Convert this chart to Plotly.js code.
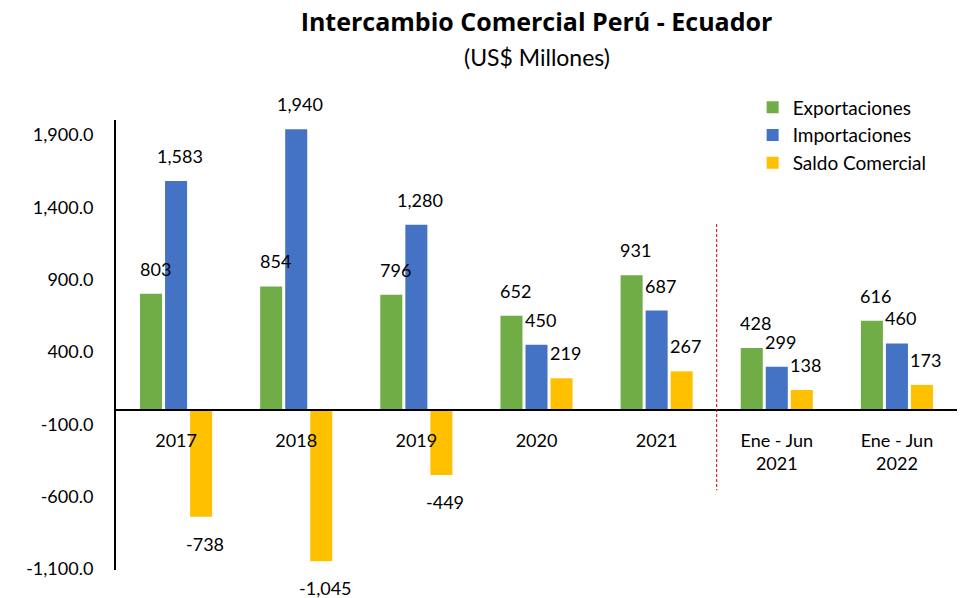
<!DOCTYPE html>
<html>
<head>
<meta charset="utf-8">
<script src="https://cdn.plot.ly/plotly-3.0.1.min.js"></script>
<style>html,body{margin:0;padding:0;background:#fff;}#chart{width:961px;height:598px;}</style>
</head>
<body>
<div id="chart"></div>
<script>
const categories = ['2017', '2018', '2019', '2020', '2021', 'Ene - Jun<br>2021', 'Ene - Jun<br>2022'];
const exportaciones = [803, 854, 796, 652, 931, 428, 616];
const importaciones = [1583, 1940, 1280, 450, 687, 299, 460];
const saldo = [-738, -1045, -449, 219, 267, 138, 173];
const yTicks = [-1100, -600, -100, 400, 900, 1400, 1900];

const FONT = 'Lato, "Open Sans", sans-serif';
const FONT2 = '"Open Sans", Lato, sans-serif';
const yMin = -1106, yMax = 2004;
const series = [
  {name: 'Exportaciones', values: exportaciones, color: '#70AD47', xshift: -21},
  {name: 'Importaciones', values: importaciones, color: '#4472C4', xshift: 4},
  {name: 'Saldo Comercial', values: saldo, color: '#FFC000', xshift: 29}
];

const traces = series.map(s => ({
  type: 'bar', name: s.name, x: categories, y: s.values,
  marker: {color: s.color}, hoverinfo: 'x+y'
}));

const fmt = (v, d) => (v < 0 ? '-' : '') + Math.abs(v).toLocaleString('en-US', {minimumFractionDigits: d, maximumFractionDigits: d});

const annotations = [];
series.forEach(s => {
  s.values.forEach((v, i) => {
    annotations.push({
      x: i, y: v, xref: 'x', yref: 'y',
      text: fmt(v, 0), showarrow: false,
      xshift: s.xshift, yshift: v >= 0 ? 25 : -27,
      font: {family: FONT, size: 18, color: '#000'}
    });
  });
});
annotations.push({
  x: 0.5, y: 1, xref: 'paper', yref: 'paper', yanchor: 'bottom',
  yshift: 47, text: '(US$ Millones)', showarrow: false,
  font: {family: FONT, size: 23, color: '#000'}
});

const layout = {
  width: 961, height: 598,
  margin: {l: 116, r: 4, t: 120, b: 28},
  paper_bgcolor: '#fff', plot_bgcolor: '#fff',
  font: {family: FONT, color: '#000'},
  title: {text: '<b>Intercambio Comercial Perú - Ecuador</b>', x: 0.5, xref: 'paper', y: 0.962, yanchor: 'middle',
          font: {family: FONT2, size: 25, color: '#000'}},
  barmode: 'group', bargap: 0.375, bargroupgap: 0.12,
  showlegend: true,
  legend: {x: 0.757, xanchor: 'left', y: 1.07, yanchor: 'top', font: {family: FONT, size: 19, color: '#000'},
           bgcolor: 'rgba(0,0,0,0)', tracegroupgap: 0},
  xaxis: {type: 'category', range: [-0.5, categories.length - 0.5], anchor: 'free', position: (0 - yMin) / (yMax - yMin),
          showline: true, linecolor: '#000', linewidth: 2, ticks: '', showgrid: false,
          ticklabelstandoff: 14, tickfont: {family: FONT, size: 18, color: '#000'}, fixedrange: true},
  yaxis: {range: [yMin, yMax], tickvals: yTicks, ticktext: yTicks.map(v => fmt(v, 1)), showgrid: false, zeroline: false,
          showline: true, linecolor: '#000', linewidth: 2, ticks: '', ticklabelstandoff: 17,
          tickfont: {family: FONT, size: 18, color: '#000'}},
  shapes: [{type: 'line', xref: 'x', yref: 'y', x0: 4.5, x1: 4.5, y0: 1285, y1: -555,
            line: {color: '#C00000', width: 1, dash: '3px,2px'}}],
  annotations: annotations
};

Plotly.newPlot('chart', traces, layout, {displayModeBar: false, staticPlot: true});
</script>
</body>
</html>
